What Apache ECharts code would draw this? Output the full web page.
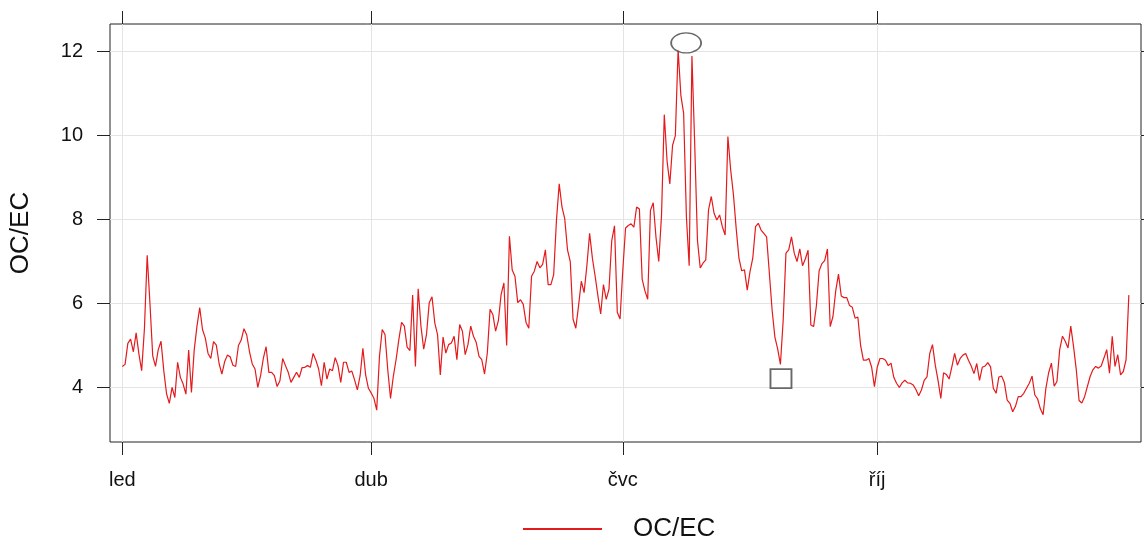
<!DOCTYPE html>
<html>
<head>
<meta charset="utf-8">
<title>OC/EC</title>
<script src="https://cdn.jsdelivr.net/npm/echarts@6/dist/echarts.min.js"></script>
<style>
  html, body { margin: 0; padding: 0; background: #ffffff; }
  #chart { width: 1144px; height: 541px; }
</style>
</head>
<body>
<div id="chart"></div>
<script>
// Daily OC/EC ratio, one value per day from 1 January to 31 December
const ocEcDaily = [
  4.50, 4.55, 5.05, 5.15, 4.85, 5.30, 4.80, 4.40, 5.40, 7.15,
  6.00, 4.75, 4.50, 4.90, 5.10, 4.40, 3.85, 3.62, 4.00, 3.76,
  4.60, 4.24, 4.08, 3.84, 4.89, 3.88, 4.89, 5.46, 5.90, 5.38,
  5.18, 4.81, 4.69, 5.09, 5.01, 4.57, 4.32, 4.61, 4.77, 4.73,
  4.53, 4.50, 5.00, 5.13, 5.40, 5.25, 4.85, 4.56, 4.44, 4.00,
  4.28, 4.69, 4.97, 4.36, 4.36, 4.28, 4.02, 4.16, 4.69, 4.52,
  4.36, 4.12, 4.24, 4.36, 4.24, 4.47, 4.48, 4.52, 4.48, 4.81,
  4.65, 4.44, 4.04, 4.60, 4.20, 4.44, 4.40, 4.71, 4.52, 4.12,
  4.60, 4.60, 4.36, 4.39, 4.18, 3.94, 4.28, 4.93, 4.30, 3.98,
  3.87, 3.74, 3.46, 4.74, 5.38, 5.26, 4.42, 3.74, 4.26, 4.66,
  5.14, 5.55, 5.46, 4.96, 4.88, 6.20, 4.50, 6.35, 5.46, 4.91,
  5.26, 6.02, 6.16, 5.54, 5.26, 4.30, 5.20, 4.82, 5.02, 5.06,
  5.22, 4.66, 5.50, 5.34, 4.78, 5.02, 5.46, 5.22, 5.07, 4.74,
  4.66, 4.32, 4.82, 5.86, 5.74, 5.34, 5.59, 6.22, 6.49, 5.00,
  7.60, 6.80, 6.65, 6.02, 6.09, 5.98, 5.55, 5.41, 6.65, 6.77,
  7.00, 6.85, 6.93, 7.28, 6.45, 6.45, 6.69, 7.98, 8.85, 8.30,
  8.02, 7.28, 7.00, 5.63, 5.41, 5.95, 6.53, 6.26, 6.90, 7.67,
  7.08, 6.65, 6.18, 5.75, 6.45, 6.10, 6.34, 7.50, 7.85, 5.79,
  5.63, 6.80, 7.80, 7.86, 7.90, 7.82, 8.30, 8.25, 6.58, 6.30,
  6.10, 8.22, 8.40, 7.58, 7.00, 8.10, 10.50, 9.40, 8.85, 9.77,
  10.00, 12.05, 10.96, 10.53, 8.06, 6.90, 11.90, 9.80, 7.50, 6.85,
  6.96, 7.04, 8.23, 8.55, 8.15, 7.99, 8.11, 7.83, 7.63, 9.98,
  9.19, 8.60, 7.79, 7.08, 6.78, 6.80, 6.32, 6.76, 7.08, 7.83,
  7.91, 7.75, 7.67, 7.59, 6.72, 5.84, 5.20, 4.92, 4.55, 5.60,
  7.20, 7.28, 7.59, 7.20, 7.00, 7.30, 6.90, 7.06, 7.27, 5.49,
  5.45, 5.94, 6.78, 6.95, 7.02, 7.30, 5.45, 5.69, 6.30, 6.70,
  6.18, 6.14, 6.14, 5.95, 5.91, 5.65, 5.68, 5.00, 4.65, 4.65,
  4.69, 4.48, 4.02, 4.48, 4.69, 4.69, 4.65, 4.52, 4.58, 4.24,
  4.10, 4.00, 4.11, 4.17, 4.11, 4.10, 4.06, 3.95, 3.80, 3.94,
  4.17, 4.25, 4.81, 5.02, 4.53, 4.17, 3.74, 4.35, 4.31, 4.20,
  4.49, 4.81, 4.53, 4.69, 4.77, 4.81, 4.65, 4.51, 4.33, 4.57,
  4.17, 4.48, 4.51, 4.59, 4.49, 3.98, 3.86, 4.25, 4.27, 4.11,
  3.70, 3.62, 3.42, 3.55, 3.78, 3.78, 3.86, 3.98, 4.10, 4.27,
  3.82, 3.73, 3.49, 3.35, 3.98, 4.35, 4.58, 4.03, 4.14, 4.90,
  5.22, 5.10, 4.94, 5.46, 4.98, 4.42, 3.69, 3.63, 3.78, 4.02,
  4.26, 4.42, 4.50, 4.46, 4.51, 4.70, 4.90, 4.34, 5.22, 4.50,
  4.78, 4.30, 4.38, 4.66, 6.20
];

// Month ticks: day of year (0 = 1 January) and Czech month abbreviations
const monthTickDays = [0, 90, 181, 273];
const monthTickLabels = ['led', 'dub', 'čvc', 'říj'];

// Value axis ticks
const yTicks = [4, 6, 8, 10, 12];

// Highlight symbols: [day of year, value]
const peakMarker = [203.9, 12.21];
const lowMarker = [238.2, 4.21];

const seriesName = 'OC/EC';
const lineColor = '#E41A1C';
const font = '"Liberation Sans", Arial, sans-serif';

const lineData = ocEcDaily.map((v, i) => [i, v]);

const chart = echarts.init(document.getElementById('chart'), null, { renderer: 'canvas' });

const tickStyle = { show: true, inside: false, length: 13, lineStyle: { color: '#222', width: 1 } };
const gridLineStyle = { show: true, lineStyle: { color: '#e4e4e4', width: 1 } };
const hiddenLine = { show: false, onZero: false };

chart.setOption({
  animation: false,
  backgroundColor: '#ffffff',
  textStyle: { fontFamily: font },
  grid: {
    left: 110, top: 24, width: 1031, height: 418,
    show: true, borderColor: '#222', borderWidth: 1, backgroundColor: 'transparent',
    containLabel: false
  },
  legend: {
    data: [{ name: seriesName, icon: 'rect' }],
    left: 518, top: 511,
    itemWidth: 79, itemHeight: 2,
    textStyle: { fontFamily: font, fontSize: 26, color: '#111', padding: [0, 0, 0, 26] }
  },
  xAxis: [
    {
      type: 'value', position: 'bottom',
      min: -4.45, max: 368.4,
      axisLine: hiddenLine,
      axisTick: Object.assign({ customValues: monthTickDays }, tickStyle),
      axisLabel: {
        customValues: monthTickDays,
        margin: 28, fontSize: 20, color: '#111', fontFamily: font,
        formatter: (v) => monthTickLabels[monthTickDays.indexOf(Math.round(v))] || ''
      },
      splitLine: gridLineStyle
    },
    {
      type: 'value', position: 'top',
      min: -4.45, max: 368.4,
      axisLine: hiddenLine,
      axisTick: Object.assign({ customValues: monthTickDays }, tickStyle),
      axisLabel: { show: false },
      splitLine: { show: false }
    }
  ],
  yAxis: [
    {
      type: 'value', position: 'left',
      min: 2.7, max: 12.66,
      name: 'OC/EC', nameLocation: 'middle', nameGap: 76,
      nameTextStyle: { fontFamily: font, fontSize: 26, color: '#111' },
      axisLine: hiddenLine,
      axisTick: Object.assign({ customValues: yTicks }, tickStyle),
      axisLabel: { customValues: yTicks, margin: 27, fontSize: 20, color: '#111', fontFamily: font },
      splitLine: gridLineStyle
    },
    {
      type: 'value', position: 'right',
      min: 2.7, max: 12.66,
      axisLine: hiddenLine,
      axisTick: Object.assign({ customValues: yTicks }, tickStyle),
      axisLabel: { show: false },
      splitLine: { show: false }
    }
  ],
  series: [
    {
      name: seriesName,
      type: 'line',
      xAxisIndex: 0, yAxisIndex: 0,
      data: lineData,
      showSymbol: false,
      symbol: 'none',
      lineStyle: { color: lineColor, width: 1.2 },
      itemStyle: { color: lineColor },
      z: 2
    },
    {
      name: 'max',
      type: 'scatter',
      data: [peakMarker],
      symbol: 'circle',
      symbolSize: [30, 20],
      itemStyle: { color: '#ffffff', borderColor: '#444', borderWidth: 1.5 },
      silent: true,
      z: 3
    },
    {
      name: 'min',
      type: 'scatter',
      data: [lowMarker],
      symbol: 'rect',
      symbolSize: [21, 19],
      itemStyle: { color: '#ffffff', borderColor: '#444', borderWidth: 1.8 },
      silent: true,
      z: 3
    }
  ]
});
</script>
</body>
</html>
